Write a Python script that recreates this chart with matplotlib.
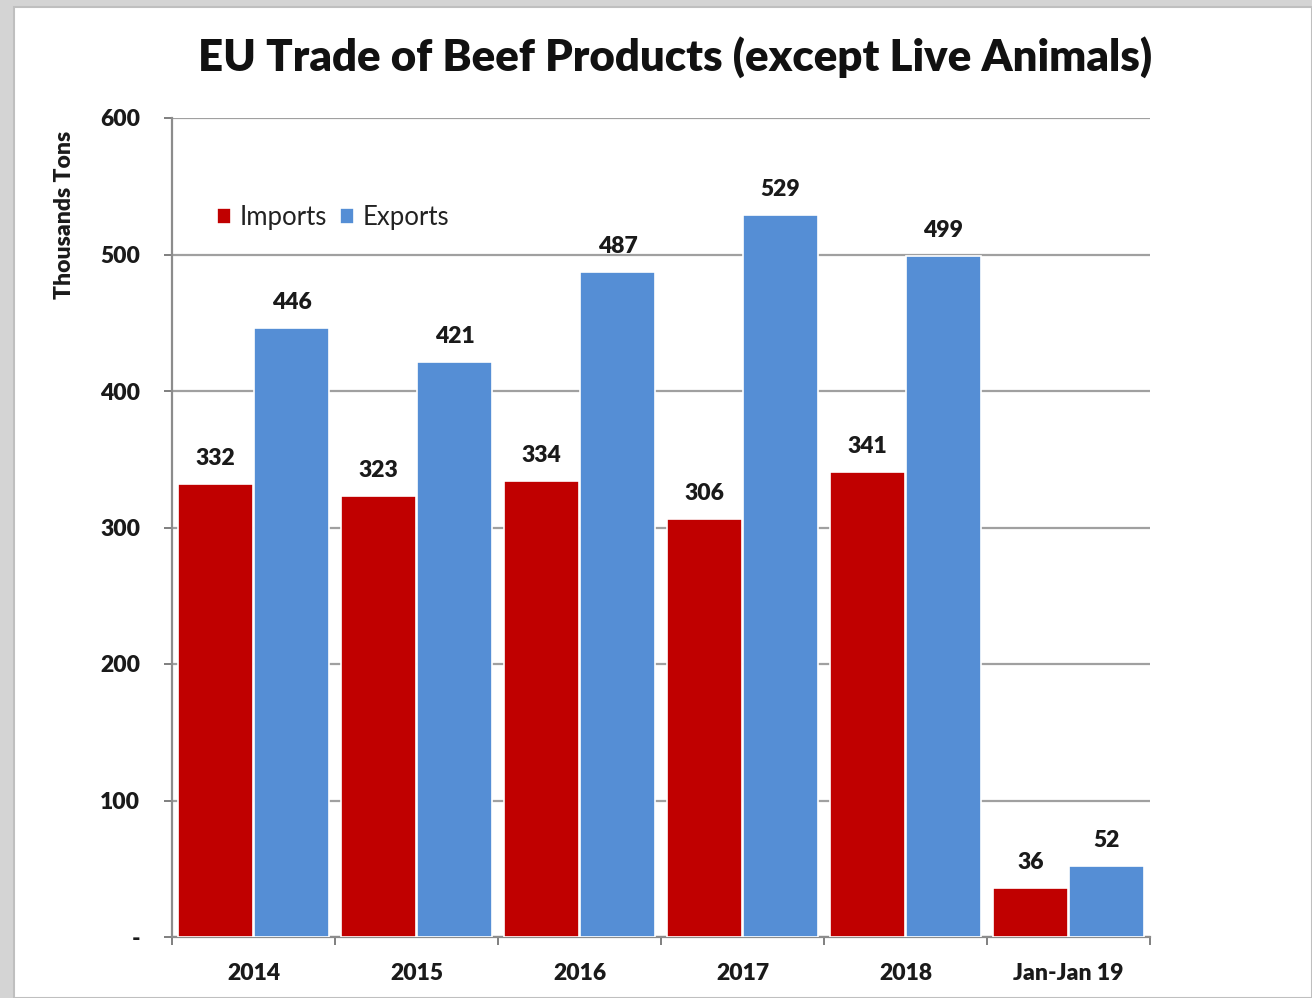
import numpy as np
import matplotlib
matplotlib.use('Agg')
import matplotlib.pyplot as plt
from matplotlib.patches import Rectangle

categories = ['2014', '2015', '2016', '2017', '2018', 'Jan-Jan 19']
imports = [332, 323, 334, 306, 341, 36]
exports = [446, 421, 487, 529, 499, 52]
y_ticks = [0, 100, 200, 300, 400, 500, 600]
y_tick_labels = ['-', '100', '200', '300', '400', '500', '600']

red = '#C00000'
blue = '#558ED5'
grid_gray = '#A0A0A0'
font = 'Lato'

plt.rcParams['font.family'] = [font, 'DejaVu Sans']

fig = plt.figure(figsize=(13.12, 9.98), dpi=100)
fig.patch.set_facecolor('#D4D4D4')
# white chart panel with thin gray border, kept behind the axes
fig.patches.append(Rectangle((14 / 1312, 0), 1 - 14 / 1312, 1 - 7 / 998,
                             transform=fig.transFigure, facecolor='white',
                             edgecolor='#BFBFBF', linewidth=1.5, zorder=-10))

ax = fig.add_axes([172 / 1312, 1 - 937 / 998, (1150 - 172) / 1312, (937 - 118) / 998])
ax.set_facecolor('white')

x = np.arange(len(categories))
width = 0.455
off = 0.233
b1 = ax.bar(x - off, imports, width, color=red, edgecolor='white', linewidth=1.2,
            label='Imports', zorder=3)
b2 = ax.bar(x + off, exports, width, color=blue, edgecolor='white', linewidth=1.2,
            label='Exports', zorder=3)

for bars, vals in ((b1, imports), (b2, exports)):
    for rect, v in zip(bars, vals):
        ax.text(rect.get_x() + rect.get_width() / 2, v + 11, str(v), ha='center', va='bottom',
                fontsize=16.5, fontweight='heavy', color='#1A1A1A', zorder=4)

ax.set_xlim(-0.5, len(categories) - 0.5)
ax.set_ylim(0, 600)
ax.set_yticks(y_ticks)
ax.set_yticklabels(y_tick_labels)
ax.yaxis.grid(True, color=grid_gray, linewidth=1.6, zorder=0)
ax.set_axisbelow(True)

ax.set_xticks(x)
ax.set_xticklabels(categories)
ax.set_xticks(np.arange(len(categories) + 1) - 0.5, minor=True)
ax.tick_params(axis='x', which='major', length=0, pad=19, labelsize=16.5)
ax.tick_params(axis='x', which='minor', length=6, width=1.4, color='#7F7F7F', direction='out')
ax.tick_params(axis='y', length=6, width=1.4, color='#7F7F7F', pad=17, labelsize=16.5)
for lab in ax.get_xticklabels() + ax.get_yticklabels():
    lab.set_fontweight('heavy')
    lab.set_color('#1A1A1A')

for side in ('top', 'right'):
    ax.spines[side].set_visible(False)
for side in ('left', 'bottom'):
    ax.spines[side].set_color('#8C8C8C')
    ax.spines[side].set_linewidth(1.6)

ax.set_ylabel('Thousands Tons', fontsize=16.5, fontweight='heavy', color='#1A1A1A')
ax.yaxis.set_label_coords(-0.099, 0.882)

leg = ax.legend(loc='upper left', bbox_to_anchor=(0.035, 0.906), ncol=2, frameon=False,
                fontsize=18.5, handlelength=0.55, handleheight=0.55, handletextpad=0.35,
                columnspacing=0.5, borderaxespad=0)
for t in leg.get_texts():
    t.set_color('#222222')

fig.text(675 / 1312, 1 - 57 / 998, 'EU Trade of Beef Products (except Live Animals)',
         ha='center', va='center', fontsize=31.5, fontweight='heavy', color='#111111')

fig.savefig('out.png', dpi=100, facecolor=fig.get_facecolor())
